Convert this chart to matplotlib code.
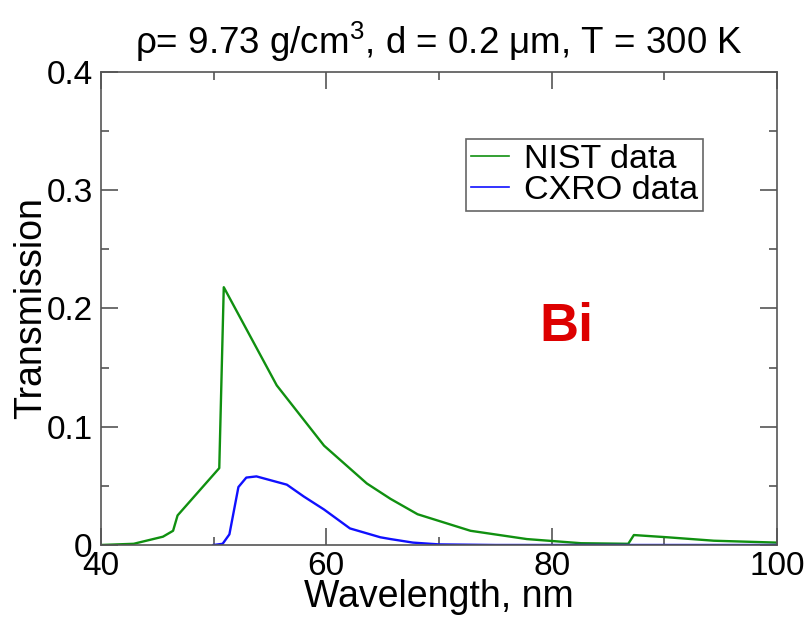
import numpy as np
import matplotlib
matplotlib.use('Agg')
import matplotlib.pyplot as plt
from matplotlib.ticker import MultipleLocator

plt.rcParams['font.family'] = ['Liberation Sans', 'DejaVu Sans']
plt.rcParams['mathtext.fontset'] = 'custom'
plt.rcParams['mathtext.rm'] = 'Liberation Sans'

# NIST transmission, Bi 0.2 um
nist_wl = [40.0, 42.9, 45.5, 46.4, 46.8, 50.5, 50.9, 55.6, 59.8, 63.6, 65.7,
           68.1, 72.8, 77.8, 82.6, 86.8, 87.3, 90.3, 94.4, 100.0]
nist_tr = [0.0, 0.001, 0.007, 0.012, 0.025, 0.065, 0.218, 0.135, 0.084, 0.052, 0.039,
           0.026, 0.012, 0.005, 0.0015, 0.001, 0.0084, 0.0065, 0.0036, 0.002]

# CXRO transmission
cxro_wl = [50.0, 50.8, 51.4, 52.2, 52.9, 53.8, 56.5, 58.0, 59.8, 62.1, 64.8,
           65.7, 67.7, 70.0, 75.0, 85.0, 100.0]
cxro_tr = [0.0, 0.001, 0.009, 0.049, 0.057, 0.058, 0.051, 0.041, 0.030, 0.014, 0.0065,
           0.005, 0.002, 0.0005, 0.0, 0.0, 0.0]

ytick_vals = [0, 0.1, 0.2, 0.3, 0.4]
ytick_text = ['0', '0.1', '0.2', '0.3', '0.4']

fig = plt.figure(figsize=(8.09, 6.2), dpi=100)
ax = fig.add_axes([0.1248, 0.121, 0.8356, 0.7629])

ax.plot(nist_wl, nist_tr, color='#109010', lw=1.7, label='NIST data')
ax.plot(cxro_wl, cxro_tr, color='#1010ff', lw=1.7, label='CXRO data')

ax.set_xlim(40, 100)
ax.set_ylim(0, 0.4)
ax.xaxis.set_major_locator(MultipleLocator(20))
ax.xaxis.set_minor_locator(MultipleLocator(10))
ax.set_yticks(ytick_vals)
ax.set_yticklabels(ytick_text)
ax.yaxis.set_minor_locator(MultipleLocator(0.05))
ax.tick_params(which='both', direction='in', top=True, right=True,
               labelsize=24, color='#555555', width=1.2)
ax.tick_params(which='major', length=12)
ax.tick_params(axis='x', which='major', pad=4)
ax.tick_params(axis='y', which='major', pad=6)
ax.tick_params(which='minor', length=6)
for sp in ax.spines.values():
    sp.set_color('#555555')
    sp.set_linewidth(1.2)

ax.set_xlabel('Wavelength, nm', fontsize=27, labelpad=-2)
ax.set_ylabel('Transmission', fontsize=27, labelpad=-2)
ax.set_title('ρ= 9.73 g/cm$^3$, d = 0.2 μm, T = 300 K', fontsize=26.5, pad=13)

leg = ax.legend(loc='upper left', bbox_to_anchor=(0.54, 0.858), fontsize=24.5,
                handlelength=1.1, handletextpad=0.45, borderpad=0.15,
                labelspacing=0.0, borderaxespad=0, fancybox=False, framealpha=1)
leg.get_frame().set_edgecolor('#666666')
leg.get_frame().set_linewidth(1.2)
for ln in leg.get_lines():
    ln.set_linewidth(1.2)

ax.text(0.689, 0.46, 'Bi', transform=ax.transAxes, color='#dd0000',
        fontsize=39, fontweight='bold', ha='center', va='center')

fig.savefig('out.png', dpi=100)
